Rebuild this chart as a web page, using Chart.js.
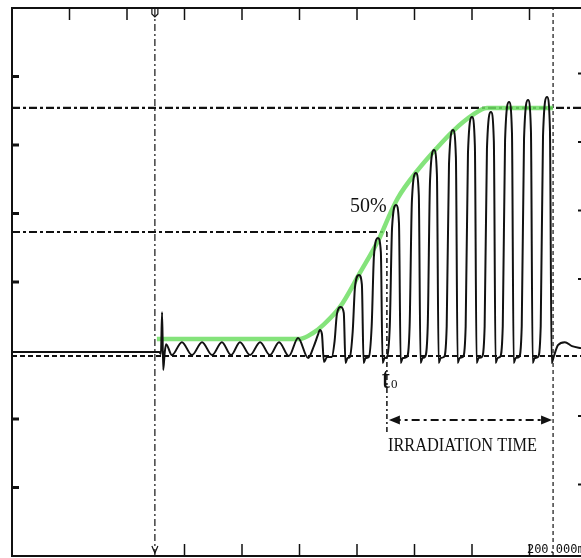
<!DOCTYPE html>
<html>
<head>
<meta charset="utf-8">
<script src="https://cdn.jsdelivr.net/npm/chart.js@4/dist/chart.umd.min.js"></script>
<style>
  html, body { margin: 0; padding: 0; background: #fff; overflow: hidden; }
  #wrap { width: 590px; height: 558px; }
</style>
</head>
<body>
<div id="wrap"><canvas id="scopeChart" width="590" height="558"></canvas></div>
<script>
// time in ms (200 ms / div), signal in % of the saturated level
var traceT = [0, 512, 518, 522, 526, 531, 536,
    556, 591, 626, 661, 696, 730, 762, 793, 828, 863, 897, 929, 963, 995, 1030,
    1050, 1064, 1071, 1078, 1085, 1096,
    1112, 1122, 1130, 1144, 1154, 1160, 1167,
    1175, 1185, 1193, 1207, 1217, 1223, 1230,
    1241, 1251, 1259, 1273, 1283, 1289, 1296,
    1304, 1314, 1322, 1336, 1346, 1352, 1359,
    1373, 1383, 1391, 1405, 1415, 1421, 1428,
    1436, 1446, 1454, 1468, 1478, 1484, 1491,
    1502, 1512, 1520, 1534, 1544, 1550, 1557,
    1568, 1578, 1586, 1600, 1610, 1616, 1623,
    1634, 1644, 1652, 1666, 1676, 1682, 1689,
    1697, 1707, 1715, 1729, 1739, 1745, 1752,
    1763, 1773, 1781, 1795, 1805, 1811, 1818,
    1829, 1839, 1847, 1861, 1871, 1877, 1884,
    1899, 1923, 1948, 1979, 2000]
var traceV = [1.6, 1.6, 0.8, 17.7, -5.6, 1.2, 4.8,
    0.4, 5.6, 0.4, 5.6, 0.4, 5.6, 0.4, 5.6, 0.4, 5.6, 0.4, 5.6, 0.0, 7.3, -0.8,
    4.0, 8.5, 10.5, 8.9, -2.4, -0.4,
    -0.4, 5.9, 16.8, 19.8, 17.4, -2.8, -0.8,
    -0.4, 9.8, 27.8, 32.7, 28.8, -2.8, -0.8,
    -0.4, 12, 40.5, 47.6, 41.9, -2.8, -0.8,
    -0.4, 12, 51.8, 60.9, 53.6, -2.8, -0.8,
    -0.4, 12, 62.7, 73.8, 64.9, -2.8, -0.8,
    -0.4, 12, 70.6, 83.1, 73.1, -2.8, -0.8,
    -0.4, 12, 77.4, 91.1, 80.2, -2.8, -0.8,
    -0.4, 12, 81.9, 96.4, 84.8, -2.8, -0.8,
    -0.4, 12, 83.6, 98.4, 86.6, -2.8, -0.8,
    -0.4, 12, 87.0, 102.4, 90.1, -2.8, -0.8,
    -0.4, 12, 87.7, 103.2, 90.8, -2.8, -0.8,
    -0.4, 12, 88.7, 104.4, 91.9, -2.8, -0.4,
    4.4, 5.6, 4.0, 3.2, 2.8]

// green envelope
var envT = [504, 1002, 1047, 1082, 1141, 1210, 1280, 1315, 1342, 1409, 1478, 1534, 1600, 1652, 1882]
var envV = [6.9, 6.9, 9.3, 12.5, 19.8, 33.5, 48.0, 57.3, 63.7, 74.6, 83.9, 90.7, 97.0, 100, 100]

var fullLevel = 100
var halfLevel = 50
var baseLevel = 0
var triggerT = 497
var t0T = 1304
var endT = 1882
var t0Bottom = -30.6
var arrowLevel = -25.8

var xMin = 0, xMax = 2000
var yMin = -80.6, yMax = 140.3
var xDivs = 10, yDivs = 8

function toPoints(t, v){
    var result = []
    for(var i = 0; i < t.length; i++){
        result.push({x: t[i], y: v[i]})
    }
    return result
}

function refLine(points, dash, width){
    return {
        data: points,
        borderColor: '#111',
        borderWidth: width,
        borderDash: dash,
        pointRadius: 0,
        tension: 0
    }
}

var scopeDecor = {
    id: 'scopeDecor',
    afterDatasetsDraw: function(chart){
        var ctx = chart.ctx
        var a = chart.chartArea
        var xs = chart.scales.x
        var ys = chart.scales.y
        ctx.save()
        ctx.strokeStyle = '#111'
        ctx.fillStyle = '#111'
        ctx.setLineDash([])

        // frame
        ctx.lineWidth = 2
        ctx.strokeRect(a.left, a.top, a.right - a.left, a.bottom - a.top)

        // graticule ticks
        var xStep = (xMax - xMin) / xDivs
        var yStep = (yMax - yMin) / yDivs
        ctx.lineWidth = 1.5
        for(var k = 1; k < xDivs; k++){
            var px = xs.getPixelForValue(xMin + k * xStep)
            ctx.beginPath()
            ctx.moveTo(px, a.top)
            ctx.lineTo(px, a.top + 12)
            ctx.stroke()
            if(k >= 3){
                ctx.beginPath()
                ctx.moveTo(px, a.bottom)
                ctx.lineTo(px, a.bottom - 12)
                ctx.stroke()
            }
        }
        for(var j = 1; j < yDivs; j++){
            if(j == 5) continue
            var py = ys.getPixelForValue(yMax - j * yStep)
            ctx.lineWidth = 3
            ctx.beginPath()
            ctx.moveTo(a.left, py)
            ctx.lineTo(a.left + 7, py)
            ctx.stroke()
            ctx.lineWidth = 2
            ctx.beginPath()
            ctx.moveTo(a.right, py - 3)
            ctx.lineTo(a.right - 9, py - 3)
            ctx.stroke()
        }

        // trigger markers
        var tx = xs.getPixelForValue(triggerT)
        ctx.lineWidth = 1.2
        ctx.beginPath()
        ctx.moveTo(tx - 3, a.top)
        ctx.lineTo(tx - 3, a.top + 6)
        ctx.lineTo(tx, a.top + 9)
        ctx.lineTo(tx + 3, a.top + 6)
        ctx.lineTo(tx + 3, a.top)
        ctx.stroke()
        ctx.beginPath()
        ctx.moveTo(tx - 3, a.bottom - 10)
        ctx.lineTo(tx, a.bottom - 3)
        ctx.lineTo(tx + 3, a.bottom - 10)
        ctx.stroke()

        // arrow heads of irradiation time
        var ay = ys.getPixelForValue(arrowLevel)
        var ax1 = xs.getPixelForValue(t0T) + 2
        var ax2 = xs.getPixelForValue(endT) - 1
        ctx.beginPath()
        ctx.moveTo(ax1, ay)
        ctx.lineTo(ax1 + 11, ay - 4.5)
        ctx.lineTo(ax1 + 11, ay + 4.5)
        ctx.closePath()
        ctx.fill()
        ctx.beginPath()
        ctx.moveTo(ax2, ay)
        ctx.lineTo(ax2 - 11, ay - 4.5)
        ctx.lineTo(ax2 - 11, ay + 4.5)
        ctx.closePath()
        ctx.fill()

        // labels
        ctx.textAlign = 'left'
        ctx.textBaseline = 'alphabetic'
        ctx.font = '20px "Liberation Serif", serif'
        ctx.fillText('50%', xs.getPixelForValue(1176), ys.getPixelForValue(58.1), 37)
        ctx.font = '30px "Liberation Serif", serif'
        ctx.fillText('t', xs.getPixelForValue(1286), ys.getPixelForValue(-12.9))
        ctx.font = '13px "Liberation Serif", serif'
        ctx.fillText('0', xs.getPixelForValue(1318), ys.getPixelForValue(-12.9))
        ctx.font = '18px "Liberation Serif", serif'
        ctx.fillText('IRRADIATION TIME', xs.getPixelForValue(1308), ys.getPixelForValue(-38.3), 149)
        ctx.font = '12px "DejaVu Sans Mono", monospace'
        ctx.fillText('200.000ms', xs.getPixelForValue(1791), ys.getPixelForValue(-79.2))
        ctx.restore()
    }
}

var ctx = document.getElementById('scopeChart').getContext('2d')
var scopeChart = new Chart(ctx, {
    type: 'line',
    data: {
        datasets: [
            {
                data: toPoints(traceT, traceV),
                borderColor: '#111',
                borderWidth: 2,
                pointRadius: 0,
                cubicInterpolationMode: 'monotone'
            },
            {
                data: toPoints(envT, envV),
                borderColor: 'rgba(110, 222, 100, 0.85)',
                borderWidth: 4.5,
                pointRadius: 0,
                cubicInterpolationMode: 'monotone'
            },
            refLine([{x: xMin, y: fullLevel}, {x: xMax, y: fullLevel}], [8, 3, 3, 3], 2.2),
            refLine([{x: xMin, y: halfLevel}, {x: t0T, y: halfLevel}], [8, 3, 3, 3], 2),
            refLine([{x: xMin, y: baseLevel}, {x: xMax, y: baseLevel}], [5, 3], 2),
            refLine([{x: triggerT, y: yMin}, {x: triggerT, y: yMax}], [7, 3, 2, 3], 1.2),
            refLine([{x: endT, y: yMin}, {x: endT, y: yMax}], [4, 3], 1.2),
            refLine([{x: t0T, y: halfLevel}, {x: t0T, y: t0Bottom}], [5, 3, 2, 3], 1.5),
            refLine([{x: t0T + 20, y: arrowLevel}, {x: endT - 20, y: arrowLevel}], [8, 4, 3, 4], 2)
        ]
    },
    plugins: [scopeDecor],
    options: {
        responsive: false,
        animation: false,
        layout: {
            padding: {left: 12, top: 8, right: 3, bottom: 2}
        },
        plugins: {
            legend: {display: false},
            tooltip: {enabled: false}
        },
        scales: {
            x: {type: 'linear', min: xMin, max: xMax, display: false},
            y: {type: 'linear', min: yMin, max: yMax, display: false}
        }
    }
});
</script>
</body>
</html>
